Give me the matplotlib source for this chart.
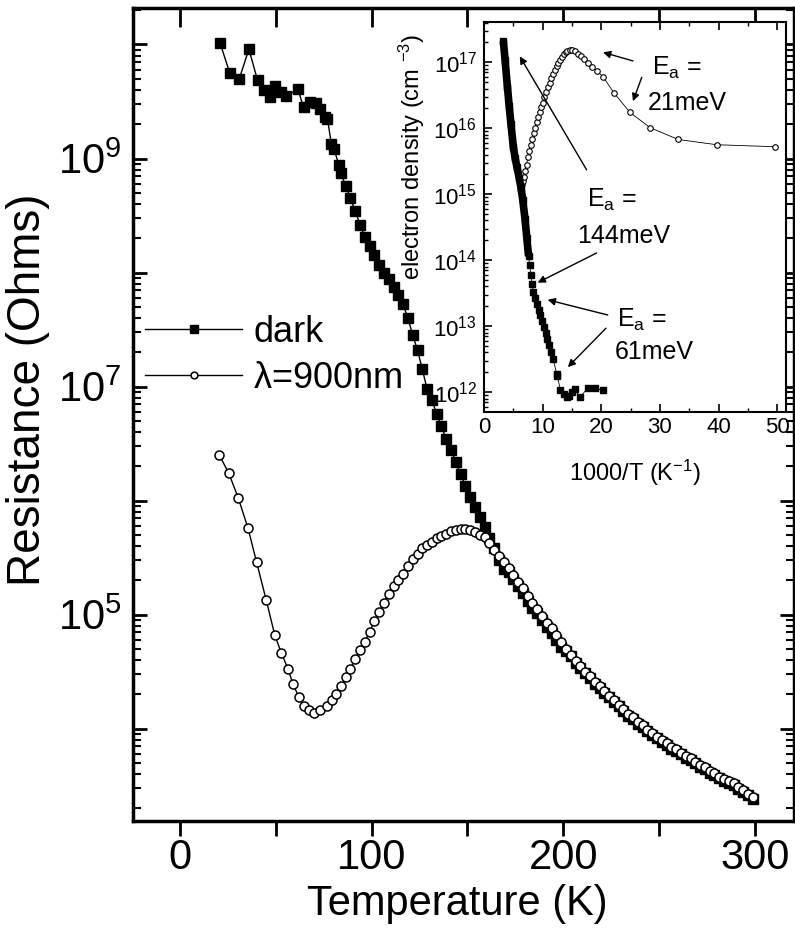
import numpy as np
import matplotlib
matplotlib.use('Agg')
import matplotlib.pyplot as plt
from matplotlib.ticker import FixedLocator, FuncFormatter, LogLocator, MultipleLocator, NullFormatter

# fonts: Arial-like everywhere, also inside mathtext
plt.rcParams['font.family'] = ['Liberation Sans', 'DejaVu Sans']
plt.rcParams['mathtext.fontset'] = 'custom'
plt.rcParams['mathtext.rm'] = 'Liberation Sans'
plt.rcParams['mathtext.it'] = 'Liberation Sans:italic'
plt.rcParams['mathtext.default'] = 'regular'

# ---- main panel data: resistance vs temperature (log10 of R)
dark_t = [21, 26, 31, 36, 40.5, 44, 47, 49.5, 52.5, 55.5, 61.5, 64.5, 68, 71, 73, 75.5, 77, 79, 80.5, 83,
          84, 86.5, 89, 91.5, 94, 96.5, 99, 101.5, 104, 106.5, 109, 111.5, 114, 116.5, 119, 121.5,
          124, 126.5, 129, 131.5, 134, 136.5, 139, 141.5, 144, 146.5, 149, 151.5, 154, 156.5, 159,
          161.5, 164, 166.5, 169,
          171.5, 174, 176.5, 179, 181.5, 184, 186.5, 189, 191.5, 194, 196.5, 199, 201.5, 204, 206.5,
          209, 211.5, 214, 216.5, 219, 221.5, 224, 226.5, 229, 231.5, 234, 236.5, 239, 241.5, 244,
          246.5, 249, 251.5, 254, 256.5, 259, 261.5, 264, 266.5, 269, 271.5, 274, 276.5, 279, 281.5,
          284, 286.5, 289, 291.5, 294, 296.5, 299]
dark_log_r = [10.01, 9.75, 9.70, 9.96, 9.685, 9.60, 9.54, 9.64, 9.58, 9.545, 9.61, 9.45, 9.50, 9.49,
              9.43, 9.365, 9.35, 9.13, 9.08, 8.94,
              8.87, 8.76, 8.65, 8.54, 8.42, 8.31, 8.23, 8.15, 8.07, 8.00, 7.94, 7.87, 7.80, 7.72,
              7.60, 7.45, 7.32, 7.15, 6.98, 6.88, 6.76, 6.65, 6.54, 6.44, 6.34, 6.23, 6.13, 6.03,
              5.94, 5.86, 5.77, 5.67, 5.58, 5.48, 5.40,
              5.37, 5.31, 5.25, 5.19, 5.12, 5.06, 5.01, 4.95, 4.89, 4.84, 4.78, 4.72,
              4.685, 4.635, 4.575, 4.535, 4.485, 4.445, 4.395, 4.355, 4.315, 4.275, 4.235, 4.195,
              4.155, 4.115, 4.085, 4.045, 4.015, 3.975, 3.945, 3.915, 3.885, 3.855, 3.825, 3.805,
              3.775, 3.745, 3.725, 3.695, 3.665, 3.645, 3.615, 3.595, 3.565, 3.545, 3.525, 3.505,
              3.475, 3.445, 3.415, 3.385]

light_t = [20.5, 25.5, 30.5, 35.5, 40, 45, 49.5, 53, 56.5, 59, 62, 64.5, 67.5, 70, 73, 76.5, 79.5,
           81.5, 84, 86.5, 89, 91.5, 94, 96.5, 99, 101.5, 104, 106.5, 109, 111.5, 114, 116.5, 119,
           121.5, 124, 126.5, 129, 131.5, 134, 136.5, 139, 141.5, 144, 146.5, 149, 151.5, 154,
           156.5, 159, 161.5, 164, 166.5, 169, 171.5, 174, 176.5, 179, 181.5, 184, 186.5, 189,
           191.5, 194, 196.5, 199, 201.5, 204, 206.5, 209, 211.5, 214, 216.5, 219, 221.5, 224,
           226.5, 229, 231.5, 234, 236.5, 239, 241.5, 244, 246.5, 249, 251.5, 254, 256.5, 259,
           261.5, 264, 266.5, 269, 271.5, 274, 276.5, 279, 281.5, 284, 286.5, 289, 291.5, 294,
           296.5, 299]
light_log_r = [6.40, 6.24, 6.02, 5.76, 5.46, 5.13, 4.82, 4.66, 4.52, 4.39, 4.28, 4.20, 4.16, 4.14,
               4.16, 4.195, 4.25,
               4.30, 4.37, 4.45, 4.52, 4.61, 4.69, 4.76, 4.85, 4.94, 5.02, 5.10, 5.18, 5.25, 5.30,
               5.36, 5.43, 5.49, 5.53, 5.58, 5.61, 5.64, 5.67, 5.69, 5.71, 5.73, 5.745, 5.752,
               5.754, 5.745, 5.725, 5.70, 5.68, 5.63, 5.57, 5.51, 5.46, 5.41, 5.35, 5.29, 5.23,
               5.16, 5.10, 5.05, 4.99, 4.93, 4.88, 4.82, 4.76, 4.70, 4.65, 4.59, 4.55, 4.50, 4.46,
               4.41, 4.37, 4.33, 4.29, 4.25, 4.21, 4.17, 4.13, 4.10, 4.06, 4.03, 3.99, 3.96, 3.93,
               3.90, 3.87, 3.84, 3.82, 3.79, 3.76, 3.74, 3.71, 3.68, 3.66, 3.63, 3.61, 3.58, 3.56,
               3.54, 3.52, 3.49, 3.46, 3.43, 3.40]

# ---- inset data: electron density vs 1000/T (log10 of n)
inset_dark_x = [3.3, 3.6, 4.0, 4.3, 4.6, 5.0, 5.3, 5.6, 6.0, 6.3, 6.6, 7.0, 7.3, 7.6,
                7.8, 8.0, 8.2, 8.4, 8.7, 9.0, 9.3, 9.6, 9.9, 10.2, 10.5, 10.8, 11.1, 11.4, 11.8,
                12.4, 12.5, 13.0, 13.6, 14.1, 14.5, 15.0, 15.5, 16.3, 17.7, 18.9, 20.3]
inset_dark_log_n = [17.32, 17.03, 16.62, 16.33, 16.06, 15.72, 15.55, 15.42, 15.25, 15.10, 14.92,
                    14.62, 14.34, 14.06,
                    13.93, 13.78, 13.64, 13.52, 13.42, 13.33, 13.25, 13.17, 13.08, 12.99, 12.90,
                    12.80, 12.71, 12.61, 12.50, 12.28, 12.25, 12.04, 11.98, 11.93, 11.95, 12.00,
                    12.05, 11.92, 12.06, 12.06, 12.03]
n_band = 14  # first points form the thick continuous band

inset_light_x = [6.45, 6.6, 6.8, 7.0, 7.25, 7.5, 7.75, 8.0, 8.25, 8.5, 8.75, 9.0, 9.25, 9.5, 9.75,
                 10.0, 10.3, 10.6, 10.9, 11.2, 11.5, 11.8, 12.1, 12.4, 12.7, 13.0, 13.3, 13.6,
                 13.9, 14.2, 14.6, 15.0, 15.5, 16.0, 16.5, 17.0, 17.7, 18.4, 19.2, 20.3, 22.2,
                 24.9, 28.3, 33.1, 39.7, 49.7]
inset_light_log_n = [15.15, 15.20, 15.26, 15.35, 15.45, 15.56, 15.65, 15.75, 15.84, 15.93, 16.01,
                     16.09, 16.17, 16.25, 16.32, 16.39, 16.47, 16.55, 16.62, 16.69, 16.76, 16.82,
                     16.88, 16.94, 16.99, 17.04, 17.08, 17.12, 17.15, 17.17, 17.19, 17.19, 17.17,
                     17.13, 17.09, 17.05, 16.99, 16.93, 16.87, 16.78, 16.53, 16.24, 16.01, 15.83,
                     15.75, 15.72]

# annotation texts and arrows (inset data coords: x, log10 n)
ea_labels = [('21meV', 32.9, 16.92, 34.6, 16.39),
             ('144meV', 21.8, 14.92, 23.9, 14.36),
             ('61meV', 26.9, 13.09, 29.1, 12.61)]
ea_arrows = [((25.4, 17.02), (20.3, 17.15)),
             ((26.9, 16.77), (25.4, 16.41)),
             ((17.5, 15.37), (6.1, 17.09)),
             ((19.2, 14.11), (9.15, 13.66)),
             ((21.1, 13.17), (10.85, 13.40)),
             ((20.8, 12.97), (14.3, 12.38))]


def pow_label(val, pos, shown=None):
    e = int(round(np.log10(val)))
    if shown is not None and e not in shown:
        return ''
    return r'10$^{%d}$' % e


fig = plt.figure(figsize=(7.95, 9.33), dpi=100)

# ---------------- main axes
ax = fig.add_axes([133 / 795, 112 / 933, 661 / 795, 813 / 933])
ax.set_yscale('log')
ax.plot(dark_t, 10 ** np.array(dark_log_r), '-', color='k', lw=1, marker='s', ms=7,
        mfc='k', mec='k', label='dark', zorder=2)
ax.plot(light_t, 10 ** np.array(light_log_r), '-', color='k', lw=1, marker='o', ms=6.5,
        mfc='white', mec='k', mew=1.1, label=r'$\lambda$=900nm', zorder=3)

ax.set_xlim(-24.5, 320.5)
ax.set_ylim(10 ** 3.19, 10 ** 10.32)
ax.xaxis.set_major_locator(MultipleLocator(50))
ax.xaxis.set_major_formatter(FuncFormatter(lambda v, p: '%d' % v if v % 100 == 0 else ''))
ax.yaxis.set_major_locator(FixedLocator([10.0 ** e for e in range(3, 11)]))
ax.yaxis.set_major_formatter(FuncFormatter(lambda v, p: pow_label(v, p, shown=(5, 7, 9))))
ax.yaxis.set_minor_locator(LogLocator(base=10, subs=np.arange(2, 10), numticks=20))
ax.yaxis.set_minor_formatter(NullFormatter())

ax.tick_params(axis='x', which='major', direction='out', length=11, width=2, labelsize=30, pad=1)
ax.tick_params(axis='y', which='both', direction='in', left=True, right=True, labelsize=30, pad=8)
ax.tick_params(axis='y', which='major', length=10, width=2)
ax.tick_params(axis='y', which='minor', length=6, width=1.5)
for s in ax.spines.values():
    s.set_linewidth(2.5)

top = ax.secondary_xaxis('top')
top.xaxis.set_major_locator(MultipleLocator(50))
top.tick_params(direction='in', length=14, width=2, labeltop=False)

ax.set_xlabel('Temperature (K)', fontsize=30)
ax.xaxis.set_label_coords(0.49, -0.078)
ax.set_ylabel('Resistance (Ohms)', fontsize=33)
ax.yaxis.set_label_coords(-0.125, 0.53)

ax.legend(loc='center left', bbox_to_anchor=(0.018, 0.573), frameon=False, fontsize=26,
          handlelength=2.7, handletextpad=0.3, labelspacing=0.3, borderpad=0,
          borderaxespad=0, markerscale=0.75)

# ---------------- inset
ins = fig.add_axes([484 / 795, (933 - 412) / 933, 302 / 795, 390 / 933])
ins.set_yscale('log')
ins.plot(inset_light_x, 10 ** np.array(inset_light_log_n), '-', color='k', lw=0.6, marker='o',
         ms=4, mfc='white', mec='k', mew=0.8, zorder=2)
ins.plot(inset_dark_x[:n_band], 10 ** np.array(inset_dark_log_n[:n_band]), '-', color='k',
         lw=5.5, solid_capstyle='butt', zorder=3)
ins.plot(inset_dark_x, 10 ** np.array(inset_dark_log_n), '-', color='k', lw=0.6, marker='s',
         ms=4, mfc='k', mec='k', zorder=3)

ins.set_xlim(0, 51.5)
ins.set_ylim(10 ** 11.7, 10 ** 17.61)
ins.xaxis.set_major_locator(MultipleLocator(10))
ins.xaxis.set_minor_locator(MultipleLocator(5))
ins.yaxis.set_major_locator(FixedLocator([10.0 ** e for e in range(12, 18)]))
ins.yaxis.set_major_formatter(FuncFormatter(pow_label))
ins.yaxis.set_minor_locator(LogLocator(base=10, subs=np.arange(2, 10), numticks=20))
ins.yaxis.set_minor_formatter(NullFormatter())
ins.tick_params(axis='both', which='both', direction='in', top=True, right=False, labelsize=16)
ins.tick_params(axis='both', which='major', length=6, width=1.2)
ins.tick_params(axis='both', which='minor', length=3, width=1)
ins.tick_params(axis='y', which='both', pad=5)
for s in ins.spines.values():
    s.set_linewidth(1.5)

ins.set_xlabel(r'1000/T (K$^{-1}$)', fontsize=17, labelpad=14)
ins.set_ylabel(r'electron density (cm $^{-3}$)', fontsize=17)
ins.yaxis.set_label_coords(-0.19, 0.655)

for val, x1, y1, x2, y2 in ea_labels:
    ins.text(x1, 10 ** y1, r'E$_a$ =', fontsize=18, ha='center', va='center')
    ins.text(x2, 10 ** y2, val, fontsize=18, ha='center', va='center')

for (tx, ty), (hx, hy) in ea_arrows:
    ins.annotate('', xy=(hx, 10 ** hy), xytext=(tx, 10 ** ty),
                 arrowprops=dict(arrowstyle='-|>', color='k', lw=1, mutation_scale=11,
                                 shrinkA=0, shrinkB=0))

fig.savefig('out.png', dpi=100)
